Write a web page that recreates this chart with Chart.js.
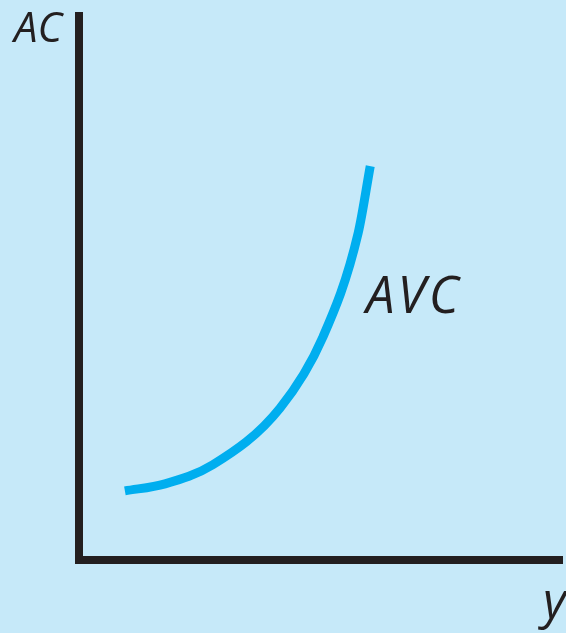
<!DOCTYPE html>
<html>
<head>
<meta charset="utf-8">
<script src="https://cdn.jsdelivr.net/npm/chart.js@4.4.1/dist/chart.umd.min.js"></script>
<style>
  html, body { margin: 0; padding: 0; background: #c6e9f9; }
  #wrap { width: 566px; height: 633px; }
</style>
</head>
<body>
<div id="wrap"><canvas id="myChart" width="566" height="633"></canvas></div>
<script>
// quantity (y) and average variable cost
const quantity = [9.5, 17.8, 27.7, 41.6, 50.5, 57.8, 60.3];
const avcValues = [12.7, 14.0, 17.5, 27.9, 41.0, 60.1, 72.4];

const axisLabelY = 'AC';
const axisLabelX = 'y';
const curveLabel = 'AVC';

const ink = '#231f20';
const curveBlue = '#00aeef';

const bgPlugin = {
    id: 'bg',
    beforeDraw(chart) {
        const c = chart.ctx;
        c.save();
        c.fillStyle = '#c6e9f9';
        c.fillRect(0, 0, chart.width, chart.height);
        c.restore();
    }
};

const labelsPlugin = {
    id: 'labels',
    afterDraw(chart) {
        const c = chart.ctx;
        const area = chart.chartArea;
        c.save();
        c.fillStyle = ink;
        c.textAlign = 'left';
        c.textBaseline = 'alphabetic';
        c.font = 'italic 42px "Open Sans"';
        c.fillText(axisLabelY, area.left - 65, area.top + 26);
        c.font = 'italic 51px "Open Sans"';
        c.letterSpacing = '3px';
        c.fillText(curveLabel, area.left + 287, 313);
        c.letterSpacing = '0px';
        c.font = 'italic 50px "Open Sans"';
        c.fillText(axisLabelX, area.right - 19, area.bottom + 58);
        c.restore();
    }
};

const ctx = document.getElementById('myChart').getContext('2d');

const myChart = new Chart(ctx, {
    type: 'line',
    data: {
        datasets: [{
            label: curveLabel,
            data: quantity.map((q, i) => ({x: q, y: avcValues[i]})),
            borderColor: curveBlue,
            borderWidth: 9,
            borderCapStyle: 'butt',
            fill: false,
            pointRadius: 0,
            cubicInterpolationMode: 'monotone'
        }]
    },
    options: {
        responsive: false,
        maintainAspectRatio: false,
        animation: false,
        layout: {
            padding: {left: 79, right: 4, top: 16, bottom: 73}
        },
        scales: {
            x: {
                type: 'linear',
                min: 0,
                max: 100,
                ticks: {display: false},
                grid: {display: false, drawTicks: false},
                border: {display: true, color: ink, width: 8}
            },
            y: {
                type: 'linear',
                min: 0,
                max: 100,
                ticks: {display: false},
                grid: {display: false, drawTicks: false},
                border: {display: true, color: ink, width: 8}
            }
        },
        plugins: {
            legend: {display: false},
            tooltip: {enabled: false}
        }
    },
    plugins: [bgPlugin, labelsPlugin]
});
</script>
</body>
</html>
